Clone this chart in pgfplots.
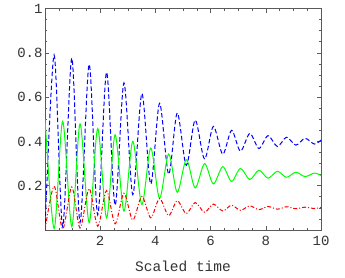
\documentclass[border=0pt]{standalone}
\usepackage{pgfplots}
\pgfplotsset{compat=1.18}
\usepackage{pgfplotstable}
\usepackage{fontspec}
\setmainfont{Liberation Mono}
\definecolor{framegray}{RGB}{90,90,90}
\pgfplotstableread{
t     b     g     r
0.00  0.000 0.500 0.000
0.33  0.790 0.006 0.198
0.64  0.016 0.490 0.004
0.97  0.776 0.015 0.194
1.27  0.034 0.479 0.009
1.60  0.748 0.033 0.187
1.91  0.068 0.458 0.017
2.23  0.712 0.055 0.178
2.54  0.112 0.430 0.028
2.86  0.664 0.085 0.166
3.18  0.160 0.400 0.045
3.51  0.616 0.115 0.152
3.83  0.208 0.370 0.055
4.15  0.572 0.143 0.142
4.48  0.252 0.343 0.065
4.79  0.528 0.170 0.132
5.12  0.292 0.318 0.074
5.44  0.496 0.190 0.124
5.78  0.320 0.300 0.080
6.10  0.468 0.208 0.117
6.44  0.342 0.286 0.086
6.76  0.450 0.219 0.112
7.08  0.356 0.278 0.089
7.42  0.436 0.228 0.109
7.75  0.368 0.270 0.092
8.08  0.426 0.234 0.106
8.42  0.377 0.265 0.094
8.75  0.419 0.238 0.105
9.09  0.383 0.261 0.096
9.42  0.414 0.241 0.103
9.76  0.388 0.257 0.097
10.00 0.406 0.246 0.102
}\osc
\begin{document}
\begin{tikzpicture}
\useasboundingbox (-45pt,-47pt) rectangle (300pt,230pt);
\begin{axis}[
  scale only axis,
  width=276pt, height=221.5pt,
  xmin=0, xmax=10, ymin=0, ymax=1,
  axis line style={framegray, line width=0.8pt},
  xtick={0,2,4,6,8,10},
  xticklabels={,2,4,6,8,10},
  ytick={0,0.2,0.4,0.6,0.8,1},
  yticklabels={,0.2,0.4,0.6,0.8,1},
  minor x tick num=3,
  minor y tick num=3,
  tick align=inside,
  major tick length=4pt,
  minor tick length=2pt,
  tick style={framegray, line width=0.6pt},
  tick pos=both,
  xticklabel pos=lower, yticklabel pos=left,
  /pgf/number format/assume math mode=true,
  ticklabel style={font=\fontsize{14}{16}\selectfont, text=black!80},
  xticklabel style={yshift=-3pt},
  yticklabel style={xshift=1pt},
  xlabel={Scaled time},
  xlabel style={font=\fontsize{14.5}{16}\selectfont, text=black!80, yshift=-8pt},
  clip=true,
]
\addplot[blue, line width=1pt, dash pattern=on 4.5pt off 2.5pt, smooth, tension=0.5] table[x=t, y=b] {\osc};
\addplot[green, line width=1pt, smooth, tension=0.5] table[x=t, y=g] {\osc};
\addplot[red, line width=1pt, dash pattern=on 4pt off 2pt on 1pt off 2pt, smooth, tension=0.5] table[x=t, y=r] {\osc};
\end{axis}
\end{tikzpicture}
\end{document}
